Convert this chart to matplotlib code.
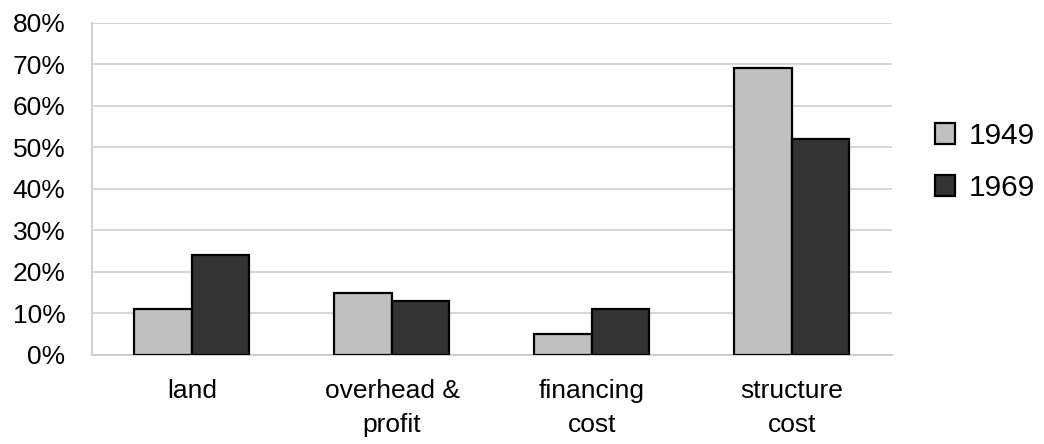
import matplotlib
matplotlib.use("Agg")
import matplotlib.pyplot as plt
import numpy as np
from matplotlib.patches import Patch

categories = ["land", "overhead &\nprofit", "financing\ncost", "structure\ncost"]
series_names = ["1949", "1969"]
values_1949 = [11, 15, 5, 69]
values_1969 = [24, 13, 11, 52]
y_ticks = [0, 10, 20, 30, 40, 50, 60, 70, 80]
y_tick_labels = ["0%", "10%", "20%", "30%", "40%", "50%", "60%", "70%", "80%"]

colors = ["#c0c0c0", "#333333"]

plt.rcParams["font.family"] = ["Liberation Sans", "DejaVu Sans"]

fig = plt.figure(figsize=(10.44, 4.44), dpi=100)
ax = fig.add_axes([0.0881, 0.2005, 0.7663, 0.7484])

x = np.arange(len(categories))
w = 0.2875
ax.bar(x - w / 2, values_1949, width=w, color=colors[0], edgecolor="black",
       linewidth=1.6, zorder=3)
ax.bar(x + w / 2, values_1969, width=w, color=colors[1], edgecolor="black",
       linewidth=1.6, zorder=3)

ax.set_xlim(-0.5, len(categories) - 0.5)
ax.set_ylim(0, 80)
ax.set_yticks(y_ticks)
ax.set_yticklabels(y_tick_labels, fontsize=19)
ax.set_xticks(x)
ax.set_xticklabels(categories, fontsize=19, linespacing=1.55)
ax.tick_params(axis="y", length=0, pad=19)
ax.tick_params(axis="x", length=0, pad=17)

ax.grid(axis="y", color="#d0d0d0", linewidth=1.2, zorder=0)
for side in ["top", "right"]:
    ax.spines[side].set_visible(False)
ax.spines["left"].set_color("#c8c8c8")
ax.spines["bottom"].set_color("#c8c8c8")
ax.spines["left"].set_linewidth(1.2)
ax.spines["bottom"].set_linewidth(1.2)

handles = [Patch(facecolor=c, edgecolor="black", linewidth=1.6) for c in colors]
fig.legend(handles, series_names, loc="upper left", bbox_to_anchor=(0.884, 0.752),
           frameon=False, fontsize=21.5, handlelength=0.67, handleheight=0.67,
           handletextpad=0.45, labelspacing=0.8, borderaxespad=0)

fig.savefig("out.png", dpi=100)
